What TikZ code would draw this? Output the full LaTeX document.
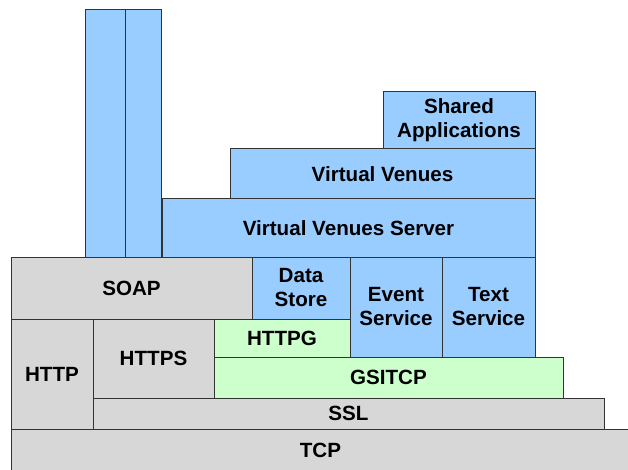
\documentclass[tikz,border=0pt]{standalone}
\usepackage{fontspec}
\setmainfont{Liberation Sans}
\definecolor{blu}{HTML}{99CCFF}
\definecolor{grn}{HTML}{CCFFCC}
\definecolor{gry}{HTML}{D7D7D7}
\definecolor{edge}{HTML}{333333}
\begin{document}
\begin{tikzpicture}[x=1pt,y=-1pt,
  blk/.style={draw=edge, line width=1pt, rectangle, inner sep=0pt, align=center,
    font=\fontsize{20.6}{24}\selectfont\bfseries, text=black},
  bl/.style={blk, fill=blu}, gr/.style={blk, fill=grn}, gy/.style={blk, fill=gry}]
\useasboundingbox (0,0) rectangle (628,470);
\begin{scope}
\clip (0,0) rectangle (628,470);
\node[gy, minimum width=619pt, minimum height=43pt] (tcp) at (320.5,450.5) {TCP};
\end{scope}
\node[gy, minimum width=511pt, minimum height=31pt] (ssl) at (348.5,413.5) {SSL};
\node[gr, minimum width=349pt, minimum height=41pt] (gsitcp) at (388.5,377.5) {GSITCP};
\node[gy, minimum width=82pt, minimum height=110pt] (http) at (52,374) {HTTP};
\node[gy, minimum width=121pt, minimum height=79pt] (https) at (153.5,358.5) {HTTPS};
\node[gr, minimum width=136pt, minimum height=38pt] (httpg) at (282,338) {HTTPG};
\node[gy, minimum width=241pt, minimum height=62pt] (soap) at (131.5,288) {SOAP};
\node[bl, minimum width=98pt, minimum height=62pt] (ds) at (301,288) {Data\\Store};
\node[bl, minimum width=92pt, minimum height=100pt] (es) at (396,307) {Event\\Service};
\node[bl, minimum width=93pt, minimum height=100pt] (ts) at (488.5,307) {Text\\Service};
\node[bl, minimum width=373pt, minimum height=58pt] (vvs) at (348.5,228) {Virtual Venues Server};
\node[bl, minimum width=305pt, minimum height=50pt] (vv) at (382.5,174) {Virtual Venues};
\node[bl, minimum width=152pt, minimum height=57pt] (sa) at (459,120.5) {Shared\\Applications};
\node[bl, minimum width=40pt, minimum height=247pt] (c1) at (105,133.5) {};
\node[bl, minimum width=36pt, minimum height=247pt] (c2) at (143,133.5) {};
\end{tikzpicture}
\end{document}
